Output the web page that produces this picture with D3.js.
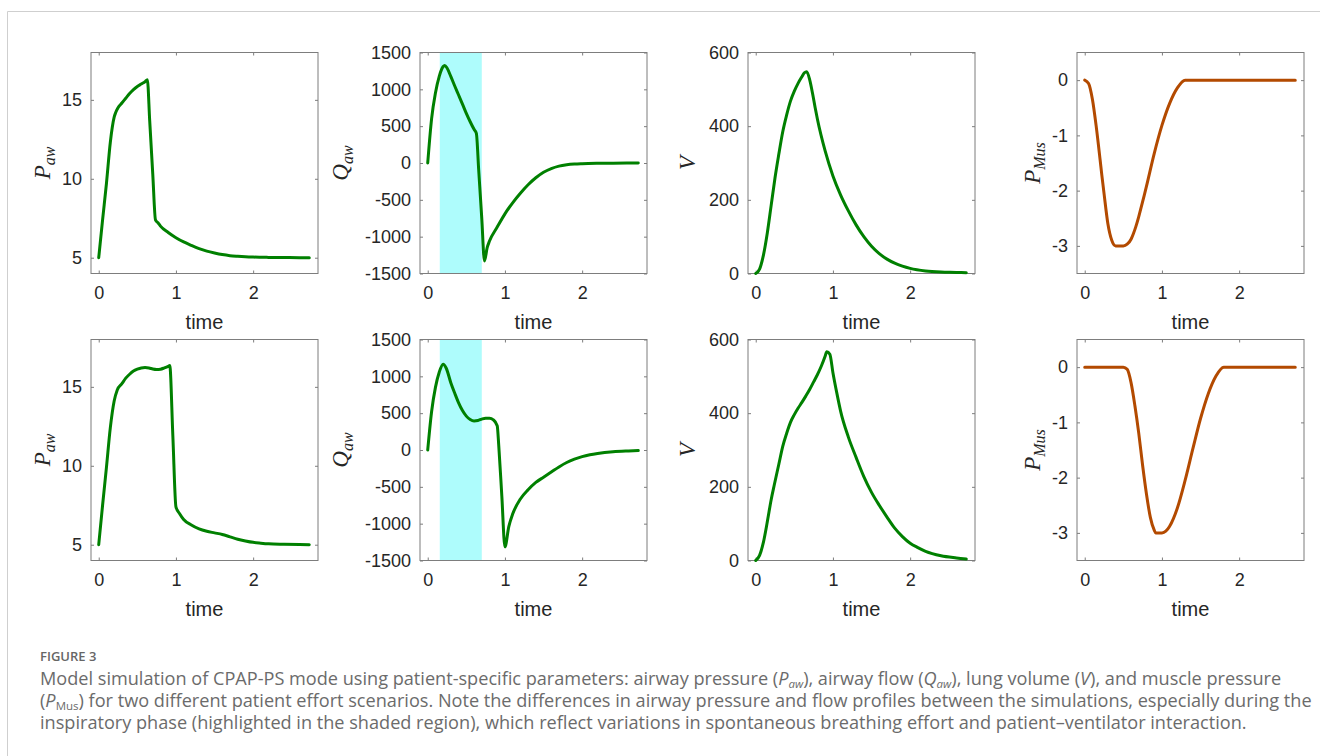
<!DOCTYPE html>
<html>
<head>
<meta charset="utf-8">
<script src="https://cdn.jsdelivr.net/npm/d3@7"></script>
<style>
  html, body { margin: 0; padding: 0; background: #fff; }
  svg { display: block; }
</style>
</head>
<body>
<svg id="chart" width="1320" height="756"></svg>
<script>
// ---------------- DATA ----------------
const timeTop = [0, 0.05, 0.1, 0.15, 0.2, 0.22, 0.25, 0.3, 0.35, 0.4, 0.45, 0.5, 0.55, 0.6, 0.63, 0.66, 0.7, 0.735, 0.77, 0.8, 0.9, 1.0, 1.1, 1.2, 1.3, 1.4, 1.5, 1.6, 1.7, 1.8, 1.9, 2.0, 2.2, 2.4, 2.6, 2.727];
const pawTop = [5.0, 7.4, 9.7, 12.3, 13.9, 14.2, 14.5, 14.8, 15.1, 15.4, 15.65, 15.85, 16.0, 16.15, 16.27, 13.7, 10.3, 7.4, 7.2, 7.0, 6.6, 6.27, 6.0, 5.78, 5.58, 5.42, 5.3, 5.2, 5.13, 5.09, 5.06, 5.04, 5.02, 5.01, 5.0, 5.0];
const qawTop = [0, 600, 950, 1180, 1310, 1325, 1290, 1172, 1045, 923, 800, 674, 560, 457, 403, -92, -752, -1330, -1150, -1060, -870, -690, -540, -410, -295, -200, -125, -75, -42, -24, -14, -9, -4, -2, -1, 0];
const volTop = [0, 12, 50, 110, 185, 215, 260, 325, 385, 430, 468, 495, 517, 535, 545, 548, 525, 490, 450, 418, 332, 265, 213, 170, 132, 100, 74, 54, 39, 28, 20, 14, 7, 4, 3, 2];
const pmusTop = [0, -0.06, -0.35, -0.85, -1.45, -1.7, -2.05, -2.6, -2.9, -3.0, -3.0, -3.0, -2.97, -2.88, -2.78, -2.66, -2.47, -2.28, -2.09, -1.92, -1.33, -0.82, -0.42, -0.14, 0, 0, 0, 0, 0, 0, 0, 0, 0, 0, 0, 0];

const timeBottom = [0, 0.05, 0.1, 0.15, 0.2, 0.24, 0.3, 0.35, 0.4, 0.45, 0.5, 0.55, 0.6, 0.65, 0.7, 0.75, 0.8, 0.85, 0.9, 0.92, 0.96, 1.0, 1.05, 1.1, 1.2, 1.3, 1.4, 1.5, 1.6, 1.7, 1.8, 1.9, 2.0, 2.1, 2.2, 2.4, 2.6, 2.727];
const pawBottom = [5.0, 7.5, 9.9, 12.4, 14.1, 14.8, 15.2, 15.55, 15.8, 16.0, 16.12, 16.2, 16.22, 16.2, 16.13, 16.1, 16.12, 16.2, 16.3, 16.35, 11.9, 7.4, 6.95, 6.6, 6.25, 6.0, 5.85, 5.75, 5.65, 5.5, 5.35, 5.24, 5.15, 5.1, 5.06, 5.03, 5.01, 5.0];
const qawBottom = [0, 520, 850, 1060, 1165, 1110, 910, 770, 640, 535, 460, 415, 395, 400, 420, 432, 432, 410, 330, 60, -630, -1315, -1040, -870, -665, -540, -440, -370, -300, -230, -170, -125, -90, -65, -47, -24, -13, -8];
const volBottom = [0, 14, 50, 105, 165, 205, 262, 310, 345, 375, 396, 414, 430, 447, 465, 485, 505, 528, 555, 567, 560, 510, 455, 405, 335, 280, 228, 185, 150, 118, 88, 65, 47, 35, 25, 13, 7, 4];
const pmusBottom = [0, 0, 0, 0, 0, 0, 0, 0, 0, 0, 0, -0.04, -0.28, -0.7, -1.2, -1.78, -2.3, -2.72, -2.95, -3.0, -3.0, -3.0, -2.97, -2.88, -2.55, -2.05, -1.48, -0.93, -0.48, -0.16, 0, 0, 0, 0, 0, 0, 0, 0];

// inspiratory (shaded) phase, time range
const shadeRange = [0.156, 0.70];

// axis settings
const timeDomain = [-0.1, 2.84];
const timeTicks = [0, 1, 2];
const pawDomain = [4, 18],       pawTicks = [5, 10, 15];
const qawDomain = [-1500, 1500], qawTicks = [-1500, -1000, -500, 0, 500, 1000, 1500];
const volDomain = [0, 600],      volTicks = [0, 200, 400, 600];
const pmusDomain = [-3.5, 0.5],  pmusTicks = [-3, -2, -1, 0];
const xLabel = "time";

// ---------------- LAYOUT ----------------
const svg = d3.select("#chart");
const colX = [91, 420, 748, 1077];
const rowY = [52.5, 339.5];
const W = 227, H = 221;
const GREEN = "#008000", BROWN = "#b34a00";
const TEXT = "#262626", AXIS = "#7d7d7d";

// figure frame
svg.append("line").attr("x1", 7.5).attr("x2", 1320).attr("y1", 11.5).attr("y2", 11.5)
  .attr("stroke", "#cfcfcf").attr("stroke-width", 1);
svg.append("line").attr("x1", 7.5).attr("x2", 7.5).attr("y1", 11.5).attr("y2", 756)
  .attr("stroke", "#cfcfcf").attr("stroke-width", 1);

const panels = [];
[[timeTop, pawTop, qawTop, volTop, pmusTop], [timeBottom, pawBottom, qawBottom, volBottom, pmusBottom]]
  .forEach((r, ri) => {
    const [t, paw, qaw, vol, pmus] = r;
    panels.push({row: ri, col: 0, t, v: paw, dom: pawDomain, ticks: pawTicks, color: GREEN, label: ["P", "aw"], labOff: -41, shade: false});
    panels.push({row: ri, col: 1, t, v: qaw, dom: qawDomain, ticks: qawTicks, color: GREEN, label: ["Q", "aw"], labOff: -72, shade: true});
    panels.push({row: ri, col: 2, t, v: vol, dom: volDomain, ticks: volTicks, color: GREEN, label: ["V", ""], labOff: -53, shade: false});
    panels.push({row: ri, col: 3, t, v: pmus, dom: pmusDomain, ticks: pmusTicks, color: BROWN, label: ["P", "Mus"], labOff: -37, shade: false});
  });

const fmt = d => String(d);

panels.forEach(p => {
  const g = svg.append("g").attr("transform", `translate(${colX[p.col]},${rowY[p.row]})`);
  const x = d3.scaleLinear().domain(timeDomain).range([0, W]);
  const y = d3.scaleLinear().domain(p.dom).range([H, 0]);

  if (p.shade) {
    g.append("rect")
      .attr("x", x(shadeRange[0])).attr("y", 0)
      .attr("width", x(shadeRange[1]) - x(shadeRange[0])).attr("height", H)
      .attr("fill", "#aefcfc");
  }

  const styleAxis = (sel, showLabels) => {
    sel.select(".domain").remove();
    sel.selectAll(".tick line").attr("stroke", AXIS).attr("stroke-width", 1);
    sel.selectAll(".tick text")
      .attr("fill", TEXT)
      .attr("font-family", "'Liberation Sans', Arial, Helvetica, sans-serif")
      .attr("font-size", 18);
    if (!showLabels) sel.selectAll(".tick text").remove();
  };

  g.append("g").attr("transform", `translate(0,${H})`)
    .call(d3.axisBottom(x).tickValues(timeTicks).tickSize(-3).tickPadding(13).tickFormat(fmt))
    .call(s => styleAxis(s, true));
  g.append("g")
    .call(d3.axisTop(x).tickValues(timeTicks).tickSize(-3))
    .call(s => styleAxis(s, false));
  g.append("g")
    .call(d3.axisLeft(y).tickValues(p.ticks).tickSize(-3).tickPadding(9).tickFormat(fmt))
    .call(s => styleAxis(s, true));
  g.append("g").attr("transform", `translate(${W},0)`)
    .call(d3.axisRight(y).tickValues(p.ticks).tickSize(-3))
    .call(s => styleAxis(s, false));

  // box
  g.append("rect").attr("x", 0).attr("y", 0).attr("width", W).attr("height", H)
    .attr("fill", "none").attr("stroke", AXIS).attr("stroke-width", 1);

  const line = d3.line().x(d => x(d[0])).y(d => y(d[1])).curve(d3.curveMonotoneX);
  g.append("path")
    .datum(p.t.map((tt, i) => [tt, p.v[i]]))
    .attr("d", line)
    .attr("fill", "none")
    .attr("stroke", p.color)
    .attr("stroke-width", 3)
    .attr("stroke-linejoin", "round")
    .attr("stroke-linecap", "round");

  // x label
  g.append("text")
    .attr("x", W / 2).attr("y", H + 55)
    .attr("text-anchor", "middle")
    .attr("font-family", "'Liberation Sans', Arial, Helvetica, sans-serif")
    .attr("font-size", 20)
    .attr("fill", TEXT)
    .text(xLabel);

  // y label (math italic)
  const yl = g.append("text")
    .attr("transform", `translate(${p.labOff},${H / 2}) rotate(-90)`)
    .attr("text-anchor", "middle")
    .attr("font-family", "'Liberation Serif', 'DejaVu Serif', serif")
    .attr("font-style", "italic")
    .attr("fill", TEXT);
  yl.append("tspan").attr("font-size", 23).text(p.label[0]);
  if (p.label[1]) yl.append("tspan").attr("font-size", 16).attr("dy", 5).text(p.label[1]);
});

// ---------------- CAPTION ----------------
const capFont = "'Open Sans', 'Noto Sans', sans-serif";
const capColor = "#6b6b6b";
svg.append("text")
  .attr("x", 40).attr("y", 661)
  .attr("font-family", capFont).attr("font-size", 13).attr("font-weight", 600)
  .attr("fill", "#666").text("FIGURE 3");

const capLines = [
  {y: 685, target: 1263, parts: [
    ["Model simulation of CPAP-PS mode using patient-specific parameters: airway pressure (", "n"],
    ["P", "i"], ["aw", "si"], ["), airway flow (", "r"], ["Q", "i"], ["aw", "si"],
    ["), lung volume (", "r"], ["V", "i"], ["), and muscle pressure", "n"]]},
  {y: 707, target: 1274, parts: [
    ["(", "n"], ["P", "i"], ["Mus", "s"],
    [") for two different patient effort scenarios. Note the differences in airway pressure and flow profiles between the simulations, especially during the", "r"]]},
  {y: 729, target: 1208, parts: [
    ["inspiratory phase (highlighted in the shaded region), which reflect variations in spontaneous breathing effort and patient\u2013ventilator interaction.", "n"]]}
];

const capTexts = capLines.map(L => {
  const tx = svg.append("text")
    .attr("x", 40).attr("y", L.y)
    .attr("font-family", capFont).attr("font-size", 17)
    .attr("fill", capColor);
  let shifted = false;
  L.parts.forEach(([s, kind]) => {
    const ts = tx.append("tspan").text(s);
    if (kind === "i") ts.attr("font-style", "italic");
    if (kind === "si" || kind === "s") {
      ts.attr("font-size", 11.5).attr("dy", 3);
      if (kind === "si") ts.attr("font-style", "italic");
      shifted = true;
    } else if (shifted) {
      ts.attr("dy", -3);
      shifted = false;
    }
  });
  return tx;
});
// one common caption size, fitted so that every line stays within its reference width
const capSize = d3.min(capTexts, (tx, i) => 17 * capLines[i].target / tx.node().getComputedTextLength());
capTexts.forEach(tx => tx.attr("font-size", capSize));
</script>
</body>
</html>
